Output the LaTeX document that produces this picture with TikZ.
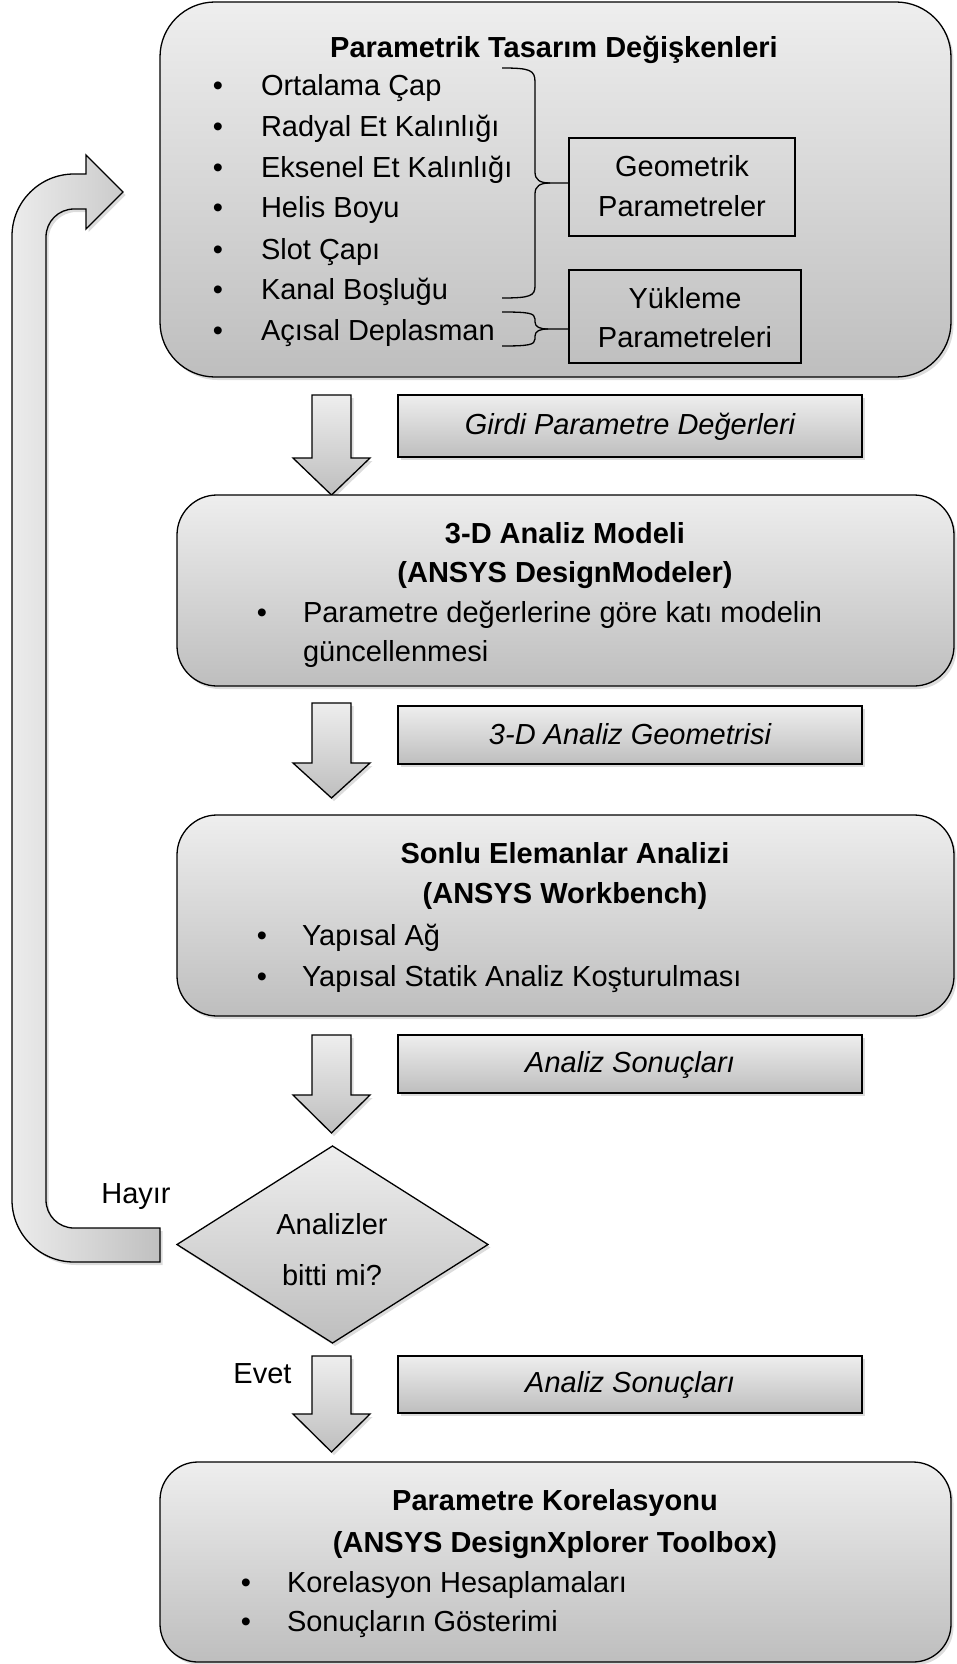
\documentclass[tikz,border=0pt]{standalone}
\usepackage{fontspec}
\setmainfont{Liberation Sans}
\usetikzlibrary{shapes.geometric,shadows}
\definecolor{shadetop}{RGB}{238,238,238}
\definecolor{shadebot}{RGB}{190,190,190}
\definecolor{loopleft}{RGB}{236,236,236}
\definecolor{loopright}{RGB}{192,192,192}
\tikzset{
  every node/.style={font=\fontsize{29pt}{35pt}\selectfont, inner sep=0pt, outer sep=0pt},
  softshadow/.style={drop shadow={opacity=0.28, shadow xshift=2.5pt, shadow yshift=-3pt}},
  panel/.style={draw=black, line width=1.3pt, top color=shadetop, bottom color=shadebot, softshadow},
  bigbox/.style={panel, rectangle, rounded corners=#1},
  tagbox/.style={panel, rectangle},
  groupbox/.style={draw=black, line width=1.3pt, rectangle},
  blockarrow/.style={draw=black, line width=1.3pt, top color=shadetop, bottom color=shadebot, softshadow},
  ttl/.style={font=\bfseries\fontsize{29pt}{35pt}\selectfont, anchor=base},
  itm/.style={anchor=base west},
  dot/.style={anchor=base},
  mid/.style={anchor=base},
  tagtext/.style={font=\itshape\fontsize{29pt}{35pt}\selectfont, anchor=base},
  bracepath/.style={draw=black, line width=1.3pt},
}
% vertical block arrow: top of shaft, base of head, tip
\newcommand\flowdown[3]{%
  \path[blockarrow] (312,#1) -- (351,#1) -- (351,#2) -- (370,#2) -- (331.5,#3)
    -- (293,#2) -- (312,#2) -- cycle;}
\begin{document}
\begin{tikzpicture}[x=1pt, y=-1pt]
\useasboundingbox (0,0) rectangle (956,1664);

% ---------- design variables ----------
\node[bigbox=55pt, minimum width=791pt, minimum height=375pt] (vars) at (555.5,189.5) {};
\node[ttl] (varsT) at (554,58) {Parametrik Tasarım Değişkenleri};
\foreach \i/\yy/\txt in {1/96/Ortalama Çap, 2/137/Radyal Et Kalınlığı, 3/178/Eksenel Et Kalınlığı,
    4/218/Helis Boyu, 5/259/Slot Çapı, 6/299/Kanal Boşluğu, 7/340/Açısal Deplasman}{
  \node[dot] (vb\i) at (218,\yy) {•};
  \node[itm] (vi\i) at (261,\yy) {\txt};
}
\node[groupbox, minimum width=226pt, minimum height=98pt] (geo) at (682,187) {};
\node[mid] (geoA) at (682,177) {Geometrik};
\node[mid] (geoB) at (682,216) {Parametreler};
\node[groupbox, minimum width=232pt, minimum height=93pt] (load) at (685,316.5) {};
\node[mid] (loadA) at (685,308) {Yükleme};
\node[mid] (loadB) at (685,347) {Parametreleri};

% braces grouping the variables
\coordinate (geoTip) at (geo.west |- 0,183);
\coordinate (loadTip) at (load.west |- 0,329);
\draw[bracepath] (502,68) .. controls (530,68) and (535,70) .. (535,82) -- (535,172)
  .. controls (535,180) and (540,183) .. (550,183) -- (geoTip);
\draw[bracepath] (550,183) .. controls (540,183) and (535,186) .. (535,194) -- (535,286)
  .. controls (535,296) and (530,298) .. (502,298);
\draw[bracepath] (502,312) .. controls (528,312) and (535,313) .. (535,319) -- (535,322)
  .. controls (535,327) and (540,329) .. (548,329) -- (loadTip);
\draw[bracepath] (548,329) .. controls (540,329) and (535,331) .. (535,336) -- (535,339)
  .. controls (535,345) and (528,346) .. (502,346);

% ---------- step 1 ----------
\flowdown{395}{458}{495}
\node[tagbox, minimum width=464pt, minimum height=62pt] (tag1) at (630,426) {};
\node[tagtext] (tag1T) at (630,434) {Girdi Parametre Değerleri};

\node[bigbox=40pt, minimum width=777pt, minimum height=191pt] (model) at (565.5,590.5) {};
\node[ttl] (modelT1) at (565,543) {3-D Analiz Modeli};
\node[ttl] (modelT2) at (565,582) {(ANSYS DesignModeler)};
\node[dot] (modelB) at (262,622) {•};
\node[itm] (modelI1) at (303,622) {Parametre değerlerine göre katı modelin};
\node[itm] (modelI2) at (303,661) {güncellenmesi};

% ---------- step 2 ----------
\flowdown{703}{763}{798}
\node[tagbox, minimum width=464pt, minimum height=58pt] (tag2) at (630,735) {};
\node[tagtext] (tag2T) at (630,744) {3-D Analiz Geometrisi};

\node[bigbox=40pt, minimum width=777pt, minimum height=201pt] (fea) at (565.5,915.5) {};
\node[ttl] (feaT1) at (565,863) {Sonlu Elemanlar Analizi};
\node[ttl] (feaT2) at (565,903) {(ANSYS Workbench)};
\node[dot] (feaB1) at (262,945) {•};
\node[itm] (feaI1) at (302,945) {Yapısal Ağ};
\node[dot] (feaB2) at (262,986) {•};
\node[itm] (feaI2) at (302,986) {Yapısal Statik Analiz Koşturulması};

% ---------- decision ----------
\flowdown{1035}{1095}{1133}
\node[tagbox, minimum width=464pt, minimum height=58pt] (tag3) at (630,1064) {};
\node[tagtext] (tag3T) at (630,1072) {Analiz Sonuçları};

\node[diamond, panel, minimum width=311pt, minimum height=197pt] (done) at (332.5,1244.5) {};
\node[mid] (doneA) at (332,1234) {Analizler};
\node[mid] (doneB) at (332,1285) {bitti mi?};

% loop back to the design variables
\path[draw=black, line width=1.3pt, left color=loopleft, right color=loopright, softshadow]
  (160,1228) -- (74,1228) .. controls (58.5,1228) and (46,1215.5) .. (46,1200)
  -- (46,237) .. controls (46,221.5) and (58.5,209) .. (74,209)
  -- (86,209) -- (86,229) -- (123,192) -- (86,155) -- (86,174) -- (74,174)
  .. controls (39.8,174) and (12,201.8) .. (12,236)
  -- (12,1200) .. controls (12,1234.2) and (39.8,1262) .. (74,1262)
  -- (160,1262) -- cycle;
\node[mid] (no) at (136,1203) {Hayır};

% ---------- correlation ----------
\flowdown{1356}{1414}{1452}
\node[mid] (yes) at (262.5,1383) {Evet};
\node[tagbox, minimum width=464pt, minimum height=57pt] (tag4) at (630,1384.5) {};
\node[tagtext] (tag4T) at (630,1392) {Analiz Sonuçları};

\node[bigbox=38pt, minimum width=791pt, minimum height=200pt] (corr) at (555.5,1562) {};
\node[ttl] (corrT1) at (555,1510) {Parametre Korelasyonu};
\node[ttl] (corrT2) at (555,1552) {(ANSYS DesignXplorer Toolbox)};
\node[dot] (corrB1) at (246,1592) {•};
\node[itm] (corrI1) at (287,1592) {Korelasyon Hesaplamaları};
\node[dot] (corrB2) at (246,1631) {•};
\node[itm] (corrI2) at (287,1631) {Sonuçların Gösterimi};
\end{tikzpicture}
\end{document}
